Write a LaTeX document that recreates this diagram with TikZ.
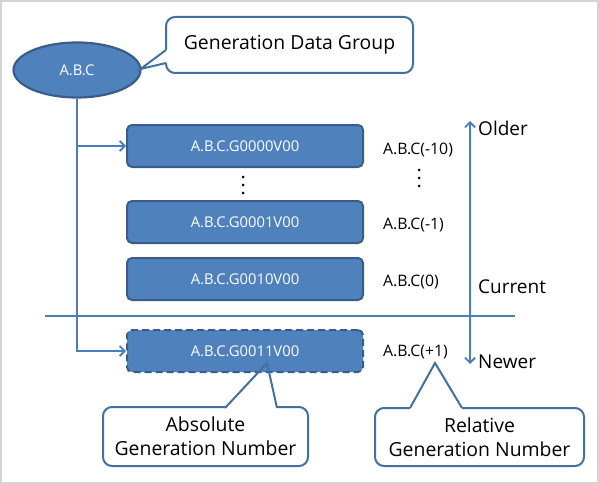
\documentclass[tikz,border=0pt]{standalone}
\usepackage{fontspec}
\setmainfont{Open Sans}
\usetikzlibrary{arrows.meta,shapes.geometric}
\definecolor{fillb}{HTML}{4F81BD}
\definecolor{edgeb}{HTML}{385D8A}
\definecolor{lineb}{HTML}{4A7EBB}
\definecolor{callb}{HTML}{41719C}
\definecolor{frameg}{HTML}{D4D4D4}
\begin{document}
\begin{tikzpicture}[x=1pt,y=-1pt,
  genbox/.style={rectangle, rounded corners=5pt, fill=fillb, draw=edgeb, line width=2pt,
    text=white, inner sep=0pt, minimum width=236pt, minimum height=42pt,
    font=\fontsize{14.8}{17}\selectfont},
  callbox/.style={rectangle, rounded corners=9pt, fill=white, draw=callb, line width=2pt,
    inner sep=0pt, align=center, font=\fontsize{19.4}{24}\selectfont},
  ptr/.style={draw=callb, line width=2pt, line join=miter},
  lab/.style={anchor=west, inner sep=0pt, font=\fontsize{15.8}{18}\selectfont},
  biglab/.style={anchor=west, inner sep=0pt, font=\fontsize{19}{22}\selectfont},
  conn/.style={draw=lineb, line width=1.8pt, -{Straight Barb[length=5pt,width=10pt,line width=1.8pt]}},
  dotmark/.style={circle, fill=black, inner sep=0pt, minimum size=3pt}
]
\useasboundingbox (0,0) rectangle (599,484);
\draw[frameg, line width=2pt] (1,1) rectangle (598,483);

% main ellipse
\node[ellipse, fill=fillb, draw=edgeb, line width=2.2pt, minimum width=127pt, minimum height=55pt,
  inner sep=0pt, text=white, font=\fontsize{14.8}{17}\selectfont] (abc) at (77,70) {A.B.C};

% callout: Generation Data Group
\node[callbox, minimum width=247pt, minimum height=56pt] (cg) at (289.5,45) {Generation Data Group};
\coordinate (cga) at (166,50);
\coordinate (cgb) at (166,63);
\coordinate (cgt) at (140.5,69);
\fill[white] (cgt) -- (cga) -- ++(3,0) -- (169,63) -- (cgb) -- cycle;
\draw[ptr] (cga) -- (cgt) -- (cgb);

% generation boxes
\node[genbox] (g0) at (245,146) {A.B.C.G0000V00};
\node[genbox] (g1) at (245,222) {A.B.C.G0001V00};
\node[genbox] (g2) at (245,279) {A.B.C.G0010V00};

% callouts at bottom (drawn before the dashed box)
\node[callbox, minimum width=205pt, minimum height=59pt] (cab) at (205.5,436.5) {Absolute\\Generation Number};
\coordinate (caa) at (225,408);
\coordinate (cab2) at (277,408);
\coordinate (cat) at (267,363);
\fill[white] (caa) -- (cat) -- (cab2) -- ++(0,3) -- (225,411) -- cycle;

\node[callbox, minimum width=209pt, minimum height=58pt] (crl) at (479.5,437) {Relative\\Generation Number};
\coordinate (cra) at (410,408);
\coordinate (crb) at (462,408);
\coordinate (crt) at (435,363);
\fill[white] (cra) -- (crt) -- (crb) -- ++(0,3) -- (410,411) -- cycle;

\node[genbox, dash pattern=on 7pt off 4pt] (g3) at (245,351) {A.B.C.G0011V00};

\draw[ptr] (caa) -- (cat) -- (cab2);
\draw[ptr] (cra) -- (crt) -- (crb);

% vertical dots
\node[dotmark] (d1) at (243,177) {};
\node[dotmark] (d2) at (243,185) {};
\node[dotmark] (d3) at (243,193) {};
\node[dotmark] (e1) at (419,170) {};
\node[dotmark] (e2) at (419,178) {};
\node[dotmark] (e3) at (419,186) {};

% connectors from A.B.C
\coordinate (j0) at (abc.south |- g0.west);
\draw[conn] (abc.south) |- (g3.west);
\draw[conn] (j0) -- (g0.west);

% separator line
\coordinate (hl1) at (45,316);
\coordinate (hl2) at (515,316);
\draw[lineb, line width=1.8pt] (hl1) -- (hl2);

% relative labels
\node[lab] (r10) at (383,150) {A.B.C(-10)};
\node[lab] (r1) at (383,225) {A.B.C(-1)};
\node[lab] (r0) at (383,282) {A.B.C(0)};
\node[lab] (rp1) at (383,352) {A.B.C(+1)};

% age arrow
\coordinate (va) at (470,121);
\coordinate (vb) at (470,364);
\draw[draw=lineb, line width=1.8pt, {Straight Barb[length=5pt,width=10pt,line width=1.8pt]}-{Straight Barb[length=5pt,width=10pt,line width=1.8pt]}] (vb) -- (va);
\node[biglab] (older) at (478,128) {Older};
\node[biglab] (current) at (478,287) {Current};
\node[biglab] (newer) at (478,362) {Newer};
\end{tikzpicture}
\end{document}
